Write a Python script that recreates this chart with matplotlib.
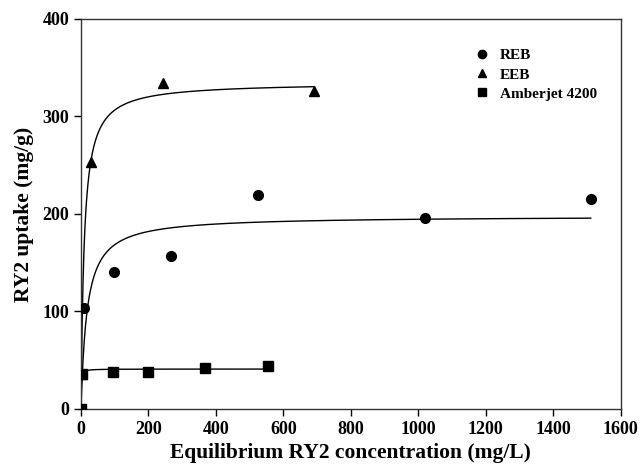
import numpy as np
import matplotlib
matplotlib.use("Agg")
import matplotlib.pyplot as plt

plt.rcParams['font.family'] = ['Liberation Serif', 'DejaVu Serif']
plt.rcParams['font.weight'] = 'bold'

# Data points
reb_x = [0, 9.8, 97.8, 265.7, 524, 1019, 1511]
reb_y = [0, 104, 141, 157, 219.5, 196, 215]
eeb_x = [0, 1.5, 28.7, 242, 691]
eeb_y = [0, 36, 253.5, 334, 326]
amb_x = [0, 2, 94, 197.6, 367, 553]
amb_y = [0, 36, 37.6, 37.6, 41.7, 44.1]

# Langmuir fit parameters (qm, K) and curve end points
reb_fit = (198.0, 0.0572, 1511)
eeb_fit = (335.0, 0.108, 691)
amb_fit = (41.0, 1.5, 553)

labels = ['REB', 'EEB', 'Amberjet 4200']
x_ticks = [0, 200, 400, 600, 800, 1000, 1200, 1400, 1600]
y_ticks = [0, 100, 200, 300, 400]

fig = plt.figure(figsize=(6.4, 4.7), dpi=100)
ax = fig.add_axes([0.1266, 0.1298, 0.8434, 0.8298])

def langmuir(c, qm, k):
    return qm * k * c / (1 + k * c)

for fit in (reb_fit, eeb_fit, amb_fit):
    qm, k, cmax = fit
    c = np.linspace(0, cmax, 800)
    ax.plot(c, langmuir(c, qm, k), color='black', lw=1.0, zorder=2)

ms = 7
ax.plot(reb_x, reb_y, 'o', color='black', ms=ms, ls='none', label=labels[0], zorder=3)
ax.plot(eeb_x, eeb_y, '^', color='black', ms=ms, ls='none', label=labels[1], zorder=3)
ax.plot(amb_x, amb_y, 's', color='black', ms=6.5, ls='none', label=labels[2], zorder=3)

ax.set_xlim(0, 1600)
ax.set_ylim(0, 400)
ax.set_xticks(x_ticks)
ax.set_yticks(y_ticks)
ax.tick_params(direction='out', length=5, width=1, labelsize=13, top=False, right=False)
for lab in ax.get_xticklabels() + ax.get_yticklabels():
    lab.set_fontweight('bold')
for sp in ax.spines.values():
    sp.set_linewidth(1.0)
    sp.set_color('#333333')

ax.set_xlabel('Equilibrium RY2 concentration (mg/L)', fontsize=15.5, fontweight='bold', labelpad=4)
ax.set_ylabel('RY2 uptake (mg/g)', fontsize=15.5, fontweight='bold', labelpad=6)

leg = ax.legend(loc='upper left', bbox_to_anchor=(0.725, 0.924), frameon=False,
                fontsize=11, handletextpad=0.6, labelspacing=0.36, handlelength=1.2,
                borderpad=0, borderaxespad=0, markerscale=0.85)
for t in leg.get_texts():
    t.set_fontweight('bold')

fig.savefig('out.png', dpi=100)
